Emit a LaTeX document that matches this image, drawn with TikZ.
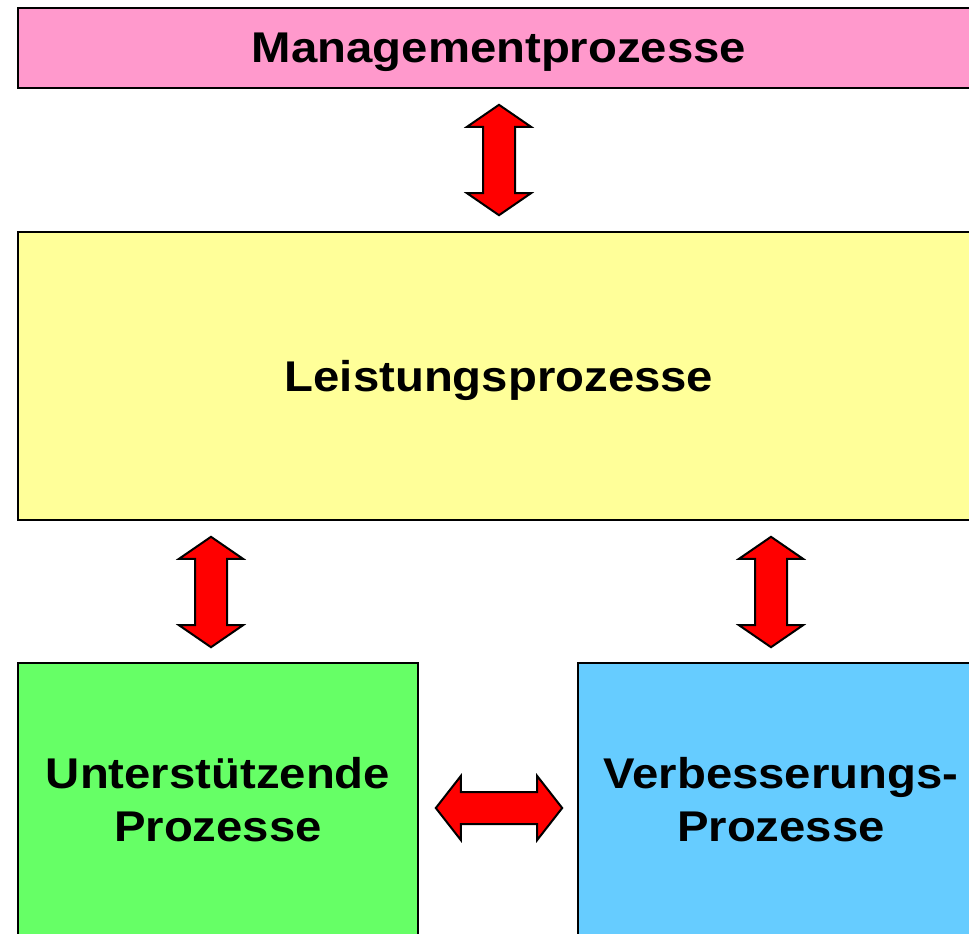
\documentclass[tikz,border=0pt]{standalone}
\usepackage{fontspec}
\setmainfont{Liberation Sans}[FakeStretch=1.1]
\usepackage{tikz}
\usetikzlibrary{calc, positioning}

\definecolor{mgmtpink}{HTML}{FF99CC}
\definecolor{leistyellow}{HTML}{FFFF99}
\definecolor{suppgreen}{HTML}{66FF66}
\definecolor{verbblue}{HTML}{66CCFF}
\definecolor{arrowred}{HTML}{FF0000}

% Doppelpfeile (senkrecht / waagerecht)
\newcommand{\vdarrow}[2]{%
  \draw[bigarrow] (#1) -- ++(32,22) -- ++(-16,0) -- ($(#2)+(16,-22)$) -- ++(16,0)
    -- (#2) -- ++(-32,-22) -- ++(16,0) -- ($(#1)+(-16,22)$) -- ++(-16,0) -- cycle;}
\newcommand{\hdarrow}[2]{%
  \draw[bigarrow] (#1) -- ++(25,-32) -- ++(0,16) -- ($(#2)+(-25,-16)$) -- ++(0,-16)
    -- (#2) -- ++(-25,32) -- ++(0,-16) -- ($(#1)+(25,16)$) -- ++(0,16) -- cycle;}

\begin{document}
\begin{tikzpicture}[x=0.5pt, y=-0.5pt,
    box/.style={draw=black, line width=0.8pt, inner sep=0pt, align=center,
                font=\bfseries\fontsize{21.5}{26.5}\selectfont},
    bigarrow/.style={draw=black, line width=1pt, fill=arrowred, line join=miter}]
    \useasboundingbox (0,0) rectangle (969,933);
    \clip (0,0) rectangle (969,933);

    % Prozesse
    \node[box, fill=mgmtpink, minimum width=481pt, minimum height=40pt, text depth=0pt] (mgmt) at (499,48) {Managementprozesse};
    \node[box, fill=leistyellow, minimum width=481pt, minimum height=144pt, text depth=0pt] (leist) at (499,376) {Leistungsprozesse};
    \node[box, fill=suppgreen, minimum width=200pt, minimum height=137pt] (support) at (218,800) {Unterstützende\\Prozesse};
    \node[box, fill=verbblue, minimum width=203pt, minimum height=137pt] (improve) at (781,800) {Verbesserungs-\\Prozesse};

    % Endpunkte der Pfeile
    \coordinate (mtop) at ($(mgmt.south)+(0,16)$);
    \coordinate (mbot) at ($(leist.north)+(0,-16)$);
    \coordinate (stop) at ($(leist.south -| support.north)+(-7,16)$);
    \coordinate (sbot) at ($(support.north)+(-7,-15)$);
    \coordinate (itop) at ($(leist.south -| improve.north)+(-10,16)$);
    \coordinate (ibot) at ($(improve.north)+(-10,-15)$);
    \coordinate (hleft) at ($(support.east)+(17,8)$);
    \coordinate (hright) at ($(improve.west)+(-15,8)$);

    % Wechselwirkungen
    \vdarrow{mtop}{mbot}
    \vdarrow{stop}{sbot}
    \vdarrow{itop}{ibot}
    \hdarrow{hleft}{hright}
\end{tikzpicture}
\end{document}
